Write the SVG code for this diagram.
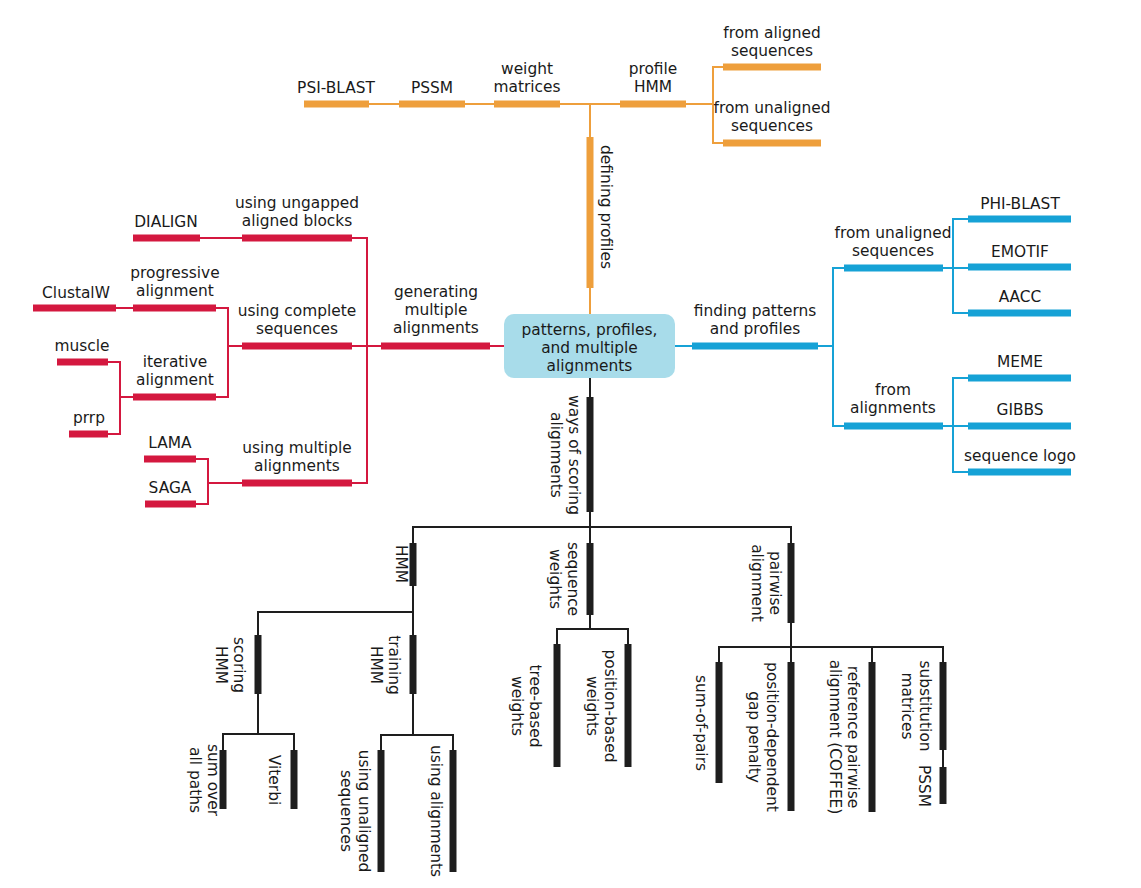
<svg xmlns="http://www.w3.org/2000/svg" width="1141" height="888" viewBox="0 0 1141 888">
<style>
text{font-family:"DejaVu Sans","Open Sans",sans-serif;font-size:15.4px;fill:#1a1a1a;text-anchor:middle}
line{fill:none;stroke-linecap:butt}
.bar{stroke-width:7}
.thin{stroke-width:2}
.o{stroke:#EE9F3C}
.r{stroke:#D4183F}
.b{stroke:#16A2D6}
.k{stroke:#1e1e1e}
</style>
<rect width="1141" height="888" fill="#ffffff"/>
<g id="connectors">
  <!-- orange -->
  <line class="thin o" x1="304" y1="104" x2="713" y2="104"/>
  <line class="thin o" x1="590" y1="104" x2="590" y2="314"/>
  <line class="thin o" x1="713" y1="66" x2="713" y2="144"/>
  <line class="thin o" x1="713" y1="67" x2="723" y2="67"/>
  <line class="thin o" x1="713" y1="143" x2="723" y2="143"/>
  <!-- red -->
  <line class="thin r" x1="200" y1="238" x2="242" y2="238"/>
  <line class="thin r" x1="352" y1="238" x2="367" y2="238"/>
  <line class="thin r" x1="367" y1="237" x2="367" y2="484"/>
  <line class="thin r" x1="352" y1="483" x2="367" y2="483"/>
  <line class="thin r" x1="352" y1="346" x2="504" y2="346"/>
  <line class="thin r" x1="116" y1="308" x2="133" y2="308"/>
  <line class="thin r" x1="216" y1="308" x2="228" y2="308"/>
  <line class="thin r" x1="228" y1="307" x2="228" y2="398"/>
  <line class="thin r" x1="216" y1="397" x2="228" y2="397"/>
  <line class="thin r" x1="228" y1="346" x2="242" y2="346"/>
  <line class="thin r" x1="108" y1="362" x2="120" y2="362"/>
  <line class="thin r" x1="120" y1="361" x2="120" y2="435"/>
  <line class="thin r" x1="108" y1="434" x2="120" y2="434"/>
  <line class="thin r" x1="120" y1="397" x2="133" y2="397"/>
  <line class="thin r" x1="196" y1="459" x2="208" y2="459"/>
  <line class="thin r" x1="208" y1="458" x2="208" y2="505"/>
  <line class="thin r" x1="196" y1="504" x2="208" y2="504"/>
  <line class="thin r" x1="208" y1="483" x2="242" y2="483"/>
  <!-- blue -->
  <line class="thin b" x1="675" y1="346" x2="692" y2="346"/>
  <line class="thin b" x1="818" y1="346" x2="833" y2="346"/>
  <line class="thin b" x1="833" y1="267" x2="833" y2="427"/>
  <line class="thin b" x1="833" y1="268" x2="844" y2="268"/>
  <line class="thin b" x1="833" y1="426" x2="844" y2="426"/>
  <line class="thin b" x1="943" y1="268" x2="968" y2="268"/>
  <line class="thin b" x1="953" y1="218" x2="953" y2="314"/>
  <line class="thin b" x1="953" y1="219" x2="968" y2="219"/>
  <line class="thin b" x1="953" y1="313" x2="968" y2="313"/>
  <line class="thin b" x1="943" y1="426" x2="968" y2="426"/>
  <line class="thin b" x1="953" y1="377" x2="953" y2="473"/>
  <line class="thin b" x1="953" y1="378" x2="968" y2="378"/>
  <line class="thin b" x1="953" y1="472" x2="968" y2="472"/>
  <!-- black -->
  <line class="thin k" x1="590" y1="378" x2="590" y2="629"/>
  <line class="thin k" x1="412" y1="527" x2="792" y2="527"/>
  <line class="thin k" x1="413" y1="527" x2="413" y2="735"/>
  <line class="thin k" x1="258" y1="612" x2="413" y2="612"/>
  <line class="thin k" x1="258" y1="611" x2="258" y2="734"/>
  <line class="thin k" x1="222" y1="734" x2="295" y2="734"/>
  <line class="thin k" x1="223" y1="733" x2="223" y2="750"/>
  <line class="thin k" x1="294" y1="733" x2="294" y2="750"/>
  <line class="thin k" x1="380" y1="735" x2="454" y2="735"/>
  <line class="thin k" x1="381" y1="734" x2="381" y2="750"/>
  <line class="thin k" x1="453" y1="734" x2="453" y2="750"/>
  <line class="thin k" x1="556" y1="629" x2="629" y2="629"/>
  <line class="thin k" x1="557" y1="628" x2="557" y2="644"/>
  <line class="thin k" x1="628" y1="628" x2="628" y2="644"/>
  <line class="thin k" x1="791" y1="526" x2="791" y2="662"/>
  <line class="thin k" x1="718" y1="647" x2="944" y2="647"/>
  <line class="thin k" x1="719" y1="646" x2="719" y2="662"/>
  <line class="thin k" x1="872" y1="646" x2="872" y2="662"/>
  <line class="thin k" x1="943" y1="646" x2="943" y2="767"/>
</g>

<g id="root">
  <rect x="504" y="314" width="171" height="64" rx="10" fill="#A8DCEA"/>
  <text><tspan x="589.5" y="335">patterns, profiles,</tspan><tspan x="589.5" y="353">and multiple</tspan><tspan x="589.5" y="371">alignments</tspan></text>
</g>

<!-- orange -->
<g id="defining-profiles"><line class="bar o" x1="590" y1="137" x2="590" y2="288"/><text transform="translate(601,207) rotate(90)"><tspan x="0" y="0">defining profiles</tspan></text></g>
<g id="psi-blast"><line class="bar o" x1="304" y1="104" x2="369" y2="104"/><text x="336" y="93">PSI-BLAST</text></g>
<g id="pssm-top"><line class="bar o" x1="399" y1="104" x2="465" y2="104"/><text x="432" y="93">PSSM</text></g>
<g id="weight-matrices"><line class="bar o" x1="494" y1="104" x2="560" y2="104"/><text><tspan x="527" y="74">weight</tspan><tspan x="527" y="92">matrices</tspan></text></g>
<g id="profile-hmm"><line class="bar o" x1="620" y1="104" x2="686" y2="104"/><text><tspan x="653" y="74">profile</tspan><tspan x="653" y="92">HMM</tspan></text></g>
<g id="from-aligned"><line class="bar o" x1="723" y1="67" x2="821" y2="67"/><text><tspan x="772" y="38">from aligned</tspan><tspan x="772" y="56">sequences</tspan></text></g>
<g id="from-unaligned-o"><line class="bar o" x1="723" y1="143" x2="821" y2="143"/><text><tspan x="772" y="113">from unaligned</tspan><tspan x="772" y="131">sequences</tspan></text></g>

<!-- red -->
<g id="generating"><line class="bar r" x1="381" y1="346" x2="490" y2="346"/><text><tspan x="436" y="297">generating</tspan><tspan x="436" y="315">multiple</tspan><tspan x="436" y="333">alignments</tspan></text></g>
<g id="ungapped"><line class="bar r" x1="242" y1="238" x2="352" y2="238"/><text><tspan x="297" y="208">using ungapped</tspan><tspan x="297" y="226">aligned blocks</tspan></text></g>
<g id="dialign"><line class="bar r" x1="133" y1="238" x2="200" y2="238"/><text x="166" y="227">DIALIGN</text></g>
<g id="complete"><line class="bar r" x1="242" y1="346" x2="352" y2="346"/><text><tspan x="297" y="316">using complete</tspan><tspan x="297" y="334">sequences</tspan></text></g>
<g id="progressive"><line class="bar r" x1="133" y1="308" x2="216" y2="308"/><text><tspan x="175" y="278">progressive</tspan><tspan x="175" y="296">alignment</tspan></text></g>
<g id="clustalw"><line class="bar r" x1="33" y1="308" x2="116" y2="308"/><text x="76" y="298">ClustalW</text></g>
<g id="iterative"><line class="bar r" x1="133" y1="397" x2="216" y2="397"/><text><tspan x="175" y="367">iterative</tspan><tspan x="175" y="385">alignment</tspan></text></g>
<g id="muscle"><line class="bar r" x1="57" y1="362" x2="108" y2="362"/><text x="82" y="351">muscle</text></g>
<g id="prrp"><line class="bar r" x1="69" y1="434" x2="108" y2="434"/><text x="89" y="423">prrp</text></g>
<g id="multiple"><line class="bar r" x1="242" y1="483" x2="352" y2="483"/><text><tspan x="297" y="453">using multiple</tspan><tspan x="297" y="471">alignments</tspan></text></g>
<g id="lama"><line class="bar r" x1="144" y1="459" x2="196" y2="459"/><text x="170" y="448">LAMA</text></g>
<g id="saga"><line class="bar r" x1="145" y1="504" x2="196" y2="504"/><text x="170" y="493">SAGA</text></g>

<!-- blue -->
<g id="finding"><line class="bar b" x1="692" y1="346" x2="818" y2="346"/><text><tspan x="755" y="316">finding patterns</tspan><tspan x="755" y="334">and profiles</tspan></text></g>
<g id="from-unaligned-b"><line class="bar b" x1="844" y1="268" x2="943" y2="268"/><text><tspan x="893" y="238">from unaligned</tspan><tspan x="893" y="256">sequences</tspan></text></g>
<g id="from-alignments"><line class="bar b" x1="844" y1="426" x2="943" y2="426"/><text><tspan x="893" y="395">from</tspan><tspan x="893" y="413">alignments</tspan></text></g>
<g id="phi-blast"><line class="bar b" x1="968" y1="219" x2="1071" y2="219"/><text x="1020" y="209">PHI-BLAST</text></g>
<g id="emotif"><line class="bar b" x1="968" y1="267" x2="1071" y2="267"/><text x="1020" y="257">EMOTIF</text></g>
<g id="aacc"><line class="bar b" x1="968" y1="313" x2="1071" y2="313"/><text x="1020" y="302">AACC</text></g>
<g id="meme"><line class="bar b" x1="968" y1="378" x2="1071" y2="378"/><text x="1020" y="367">MEME</text></g>
<g id="gibbs"><line class="bar b" x1="968" y1="426" x2="1071" y2="426"/><text x="1020" y="415">GIBBS</text></g>
<g id="sequence-logo"><line class="bar b" x1="968" y1="472" x2="1071" y2="472"/><text x="1020" y="461">sequence logo</text></g>

<!-- black -->
<g id="ways-of-scoring"><line class="bar k" x1="590" y1="397" x2="590" y2="512"/><text transform="translate(569,455) rotate(90)"><tspan x="0" y="0">ways of scoring</tspan><tspan x="0" y="18">alignments</tspan></text></g>
<g id="hmm"><line class="bar k" x1="413" y1="543" x2="413" y2="586"/><text transform="translate(396,564) rotate(90)"><tspan x="0" y="0">HMM</tspan></text></g>
<g id="scoring-hmm"><line class="bar k" x1="258" y1="635" x2="258" y2="694"/><text transform="translate(234,665) rotate(90)"><tspan x="0" y="0">scoring</tspan><tspan x="0" y="18">HMM</tspan></text></g>
<g id="training-hmm"><line class="bar k" x1="413" y1="635" x2="413" y2="694"/><text transform="translate(389,665) rotate(90)"><tspan x="0" y="0">training</tspan><tspan x="0" y="18">HMM</tspan></text></g>
<g id="sum-over"><line class="bar k" x1="223" y1="750" x2="223" y2="809"/><text transform="translate(208,780) rotate(90)"><tspan x="0" y="0">sum over</tspan><tspan x="0" y="18">all paths</tspan></text></g>
<g id="viterbi"><line class="bar k" x1="294" y1="750" x2="294" y2="809"/><text transform="translate(269,780) rotate(90)"><tspan x="0" y="0">Viterbi</tspan></text></g>
<g id="using-unaligned"><line class="bar k" x1="381" y1="750" x2="381" y2="872"/><text transform="translate(359,811) rotate(90)"><tspan x="0" y="0">using unaligned</tspan><tspan x="0" y="18">sequences</tspan></text></g>
<g id="using-alignments"><line class="bar k" x1="453" y1="750" x2="453" y2="872"/><text transform="translate(431,811) rotate(90)"><tspan x="0" y="0">using alignments</tspan></text></g>
<g id="sequence-weights"><line class="bar k" x1="590" y1="543" x2="590" y2="615"/><text transform="translate(568,579) rotate(90)"><tspan x="0" y="0">sequence</tspan><tspan x="0" y="18">weights</tspan></text></g>
<g id="tree-based"><line class="bar k" x1="557" y1="644" x2="557" y2="767"/><text transform="translate(530,706) rotate(90)"><tspan x="0" y="0">tree-based</tspan><tspan x="0" y="18">weights</tspan></text></g>
<g id="position-based"><line class="bar k" x1="628" y1="644" x2="628" y2="767"/><text transform="translate(605,706) rotate(90)"><tspan x="0" y="0">position-based</tspan><tspan x="0" y="18">weights</tspan></text></g>
<g id="pairwise"><line class="bar k" x1="791" y1="543" x2="791" y2="623"/><text transform="translate(770,583) rotate(90)"><tspan x="0" y="0">pairwise</tspan><tspan x="0" y="18">alignment</tspan></text></g>
<g id="sum-of-pairs"><line class="bar k" x1="719" y1="662" x2="719" y2="783"/><text transform="translate(696,723) rotate(90)"><tspan x="0" y="0">sum-of-pairs</tspan></text></g>
<g id="position-dependent"><line class="bar k" x1="791" y1="662" x2="791" y2="811"/><text transform="translate(767,737) rotate(90)"><tspan x="0" y="0">position-dependent</tspan><tspan x="0" y="18">gap penalty</tspan></text></g>
<g id="reference-pairwise"><line class="bar k" x1="872" y1="662" x2="872" y2="812"/><text transform="translate(848,737) rotate(90)"><tspan x="0" y="0">reference pairwise</tspan><tspan x="0" y="18">alignment (COFFEE)</tspan></text></g>
<g id="substitution"><line class="bar k" x1="943" y1="662" x2="943" y2="750"/><text transform="translate(920,706) rotate(90)"><tspan x="0" y="0">substitution</tspan><tspan x="0" y="18">matrices</tspan></text></g>
<g id="pssm-bottom"><line class="bar k" x1="943" y1="767" x2="943" y2="804"/><text transform="translate(919,786) rotate(90)"><tspan x="0" y="0">PSSM</tspan></text></g>
</svg>
